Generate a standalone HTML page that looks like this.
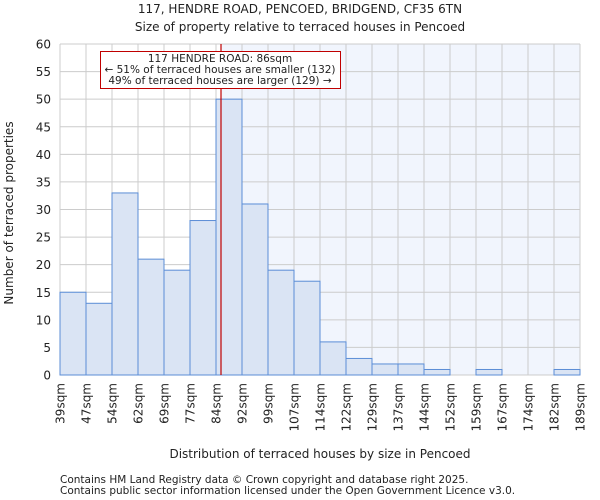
<!DOCTYPE html><html><head><style>body{margin:0;background:#fff}svg{display:block}text{font-family:"DejaVu Sans",sans-serif;fill:#222}</style></head><body>
<svg width="600" height="500" xmlns="http://www.w3.org/2000/svg">
<rect x="221" y="44" width="359" height="331" fill="#f1f5fd"/>
<g id="g" stroke="#cccccc" stroke-width="1"></g>
<g id="b"></g>
<line x1="221" y1="44" x2="221" y2="375" stroke="#c00000" stroke-width="1.2"/>
<rect x="100.5" y="51.5" width="240" height="37" fill="#fff" stroke="#c00000" stroke-width="1"/>
<text x="220" y="62" font-size="10.5" text-anchor="middle">117 HENDRE ROAD: 86sqm</text>
<text x="220" y="73" font-size="10.5" text-anchor="middle">← 51% of terraced houses are smaller (132)</text>
<text x="220" y="84" font-size="10.5" text-anchor="middle">49% of terraced houses are larger (129) →</text>
<text x="300" y="13" font-size="12" text-anchor="middle">117, HENDRE ROAD, PENCOED, BRIDGEND, CF35 6TN</text>
<text x="300" y="31" font-size="12" text-anchor="middle">Size of property relative to terraced houses in Pencoed</text>
<text x="320" y="458" font-size="12" text-anchor="middle">Distribution of terraced houses by size in Pencoed</text>
<text transform="translate(13,213) rotate(-90)" font-size="12" text-anchor="middle">Number of terraced properties</text>
<text x="60" y="483" font-size="10.5">Contains HM Land Registry data © Crown copyright and database right 2025.</text>
<text x="60" y="494" font-size="10.5">Contains public sector information licensed under the Open Government Licence v3.0.</text>
<g id="t"></g>
</svg>
<script>
const ns="http://www.w3.org/2000/svg",g=document.getElementById('g'),b=document.getElementById('b'),t=document.getElementById('t');
function el(p,n,a,txt){const e=document.createElementNS(ns,n);for(const k in a)e.setAttribute(k,a[k]);if(txt!=null)e.textContent=txt;p.appendChild(e);return e}
const Y=v=>375-v*331/60;
for(let i=0;i<=20;i++){const x=60+i*26;el(g,'line',{x1:x,y1:44,x2:x,y2:375});}
for(let v=0;v<=60;v+=5){el(g,'line',{x1:60,y1:Y(v),x2:580,y2:Y(v)});el(t,'text',{x:51,y:Y(v)+4.5,'font-size':12,'text-anchor':'end'},v);}
const d=[15,13,33,21,19,28,50,31,19,17,6,3,2,2,1,0,1,0,0,1];
d.forEach((v,i)=>{if(v>0)el(b,'rect',{x:60+i*26,y:Y(v),width:26,height:375-Y(v),fill:'#dae4f4',stroke:'#5b8dd6','stroke-width':1});});
const L=[39,47,54,62,69,77,84,92,99,107,114,122,129,137,144,152,159,167,174,182,189];
L.forEach((v,i)=>{const x=60+i*26+4.5;el(t,'text',{transform:`translate(${x},383) rotate(-90)`,'font-size':12,'text-anchor':'end'},v+'sqm');});
</script>
</body></html>
